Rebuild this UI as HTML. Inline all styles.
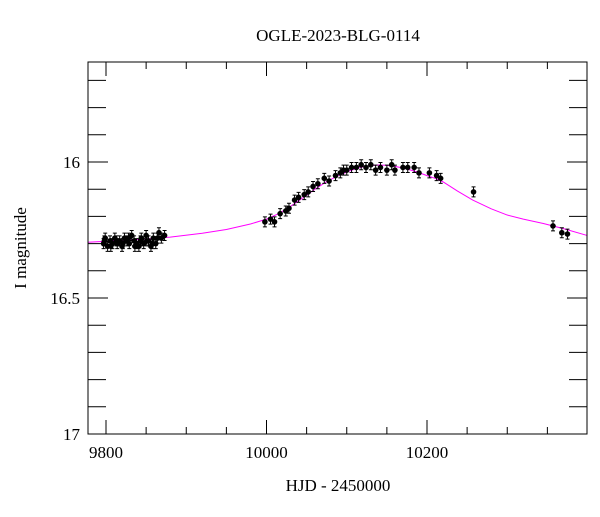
<!DOCTYPE html>
<html><head><meta charset="utf-8"><style>
body{margin:0;background:#fff}
svg text{font-family:"Liberation Serif",serif;fill:#000}
</style></head><body>
<svg id="chart" width="600" height="512" viewBox="0 0 600 512" xmlns="http://www.w3.org/2000/svg">
<rect x="0" y="0" width="600" height="512" fill="#fff"/>
<text x="338" y="41" font-size="17" text-anchor="middle">OGLE-2023-BLG-0114</text>
<text x="338" y="491" font-size="17" text-anchor="middle">HJD - 2450000</text>
<text transform="translate(26,248) rotate(-90)" font-size="17" text-anchor="middle">I magnitude</text>
<g id="ticks"></g>
<g id="curve"></g>
<g id="points"></g>
<rect x="88" y="62" width="499" height="372" fill="none" stroke="#000" stroke-width="1"/>
</svg>
<script>
const xTicks=[9800,10000,10200];
const xMinor=[9850,9900,9950,10050,10100,10150,10250,10300,10350];
const yTicks=[16,16.5,17];
const yMinor=[15.7,15.8,15.9,16.1,16.2,16.3,16.4,16.6,16.7,16.8,16.9];
const modelT=[9777,9830,9880,9920,9950,9980,10000,10015,10030,10040,10050,10062,10075,10088,10100,10110,10120,10130,10140,10150,10160,10170,10180,10190,10200,10210,10220,10238,10257,10280,10300,10320,10345,10370,10400];
const modelMag=[16.295,16.287,16.276,16.262,16.248,16.228,16.21,16.19,16.163,16.143,16.122,16.097,16.072,16.052,16.037,16.026,16.018,16.013,16.011,16.012,16.016,16.022,16.03,16.039,16.05,16.06,16.073,16.107,16.14,16.172,16.195,16.21,16.226,16.245,16.27];
const obsT=[9797,9799,9802,9805,9808,9811,9814,9817,9820,9823,9826,9829,9832,9835,9838,9841,9844,9847,9850,9853,9856,9859,9862,9866,9869,9873,
9798,9806,9813,9821,9828,9836,9843,9851,9858,9864,
9998,10005,10010,10017,10024,10028,10035,10040,10047,10052,10058,10064,10072,10078,10086,10092,10096,10100,10106,10112,10118,10124,10130,10136,10142,10150,10156,10160,10170,10176,10184,10190,10203,10212,10217,10258,10357,10368,10375];
const obsMag=[16.30,16.28,16.31,16.29,16.30,16.28,16.30,16.29,16.31,16.28,16.29,16.30,16.27,16.29,16.30,16.31,16.28,16.30,16.27,16.29,16.31,16.28,16.30,16.26,16.28,16.27,
16.29,16.31,16.29,16.30,16.28,16.31,16.29,16.29,16.30,16.28,
16.22,16.21,16.22,16.19,16.18,16.17,16.14,16.13,16.12,16.11,16.09,16.08,16.06,16.07,16.05,16.04,16.03,16.03,16.02,16.02,16.01,16.02,16.01,16.03,16.02,16.03,16.01,16.03,16.02,16.02,16.02,16.04,16.04,16.05,16.06,16.11,16.235,16.26,16.265];
const L=88,R=587,T=62,B=434;
const x=t=>106+(t-9800)*0.8025;
const y=m=>162+(m-16)*272;
const NS="http://www.w3.org/2000/svg";
function mk(tag,attrs,parent){const e=document.createElementNS(NS,tag);for(const k in attrs)e.setAttribute(k,attrs[k]);document.getElementById(parent).appendChild(e);return e;}
xTicks.forEach(t=>{
 const a=mk('line',{x1:x(t),x2:x(t),y1:B,y2:B-14,stroke:'#000'},'ticks');
 
 
 const b=mk('line',{x1:x(t),x2:x(t),y1:T,y2:T+14,stroke:'#000'},'ticks');
 
 
 const l=mk('text',{x:x(t),y:B+24,'font-size':17,'text-anchor':'middle'},'ticks');l.textContent=t;
 
 
});
xMinor.forEach(t=>{
 const a=mk('line',{x1:x(t),x2:x(t),y1:B,y2:B-7,stroke:'#000'},'ticks');
 
 
 const b=mk('line',{x1:x(t),x2:x(t),y1:T,y2:T+7,stroke:'#000'},'ticks');
 
 
});
yTicks.concat(yMinor).forEach(m=>{
 const maj=yTicks.includes(m);const len=maj?20:18;
 const a=mk('line',{x1:L,x2:L+len,y1:y(m),y2:y(m),stroke:'#000'},'ticks');
 
 
 const b=mk('line',{x1:R,x2:R-len,y1:y(m),y2:y(m),stroke:'#000'},'ticks');
 
 
 if(maj){const l=mk('text',{x:L-8,y:y(m)+6,'font-size':17,'text-anchor':'end'},'ticks');l.textContent=m;
 
 }
});
let d='';modelT.forEach((t,i)=>{d+=(i?'L':'M')+x(Math.max(9777.6,Math.min(t,10399.4)))+' '+y(modelMag[i]);});
const c=mk('path',{d:d,fill:'none',stroke:'#ff00ff','stroke-width':1,'stroke-linejoin':'round'},'curve');


obsT.forEach((t,i)=>{
 const px=x(t),py=y(obsMag[i]);
 const e=mk('path',{d:`M${px} ${py-5}V${py+5}M${px-2} ${py-5}H${px+2}M${px-2} ${py+5}H${px+2}`,stroke:'#000','stroke-width':1},'points');
 
 
 const p=mk('circle',{cx:px,cy:py,r:2.8,fill:'#000'},'points');
 
 
});
</script>
</body></html>
